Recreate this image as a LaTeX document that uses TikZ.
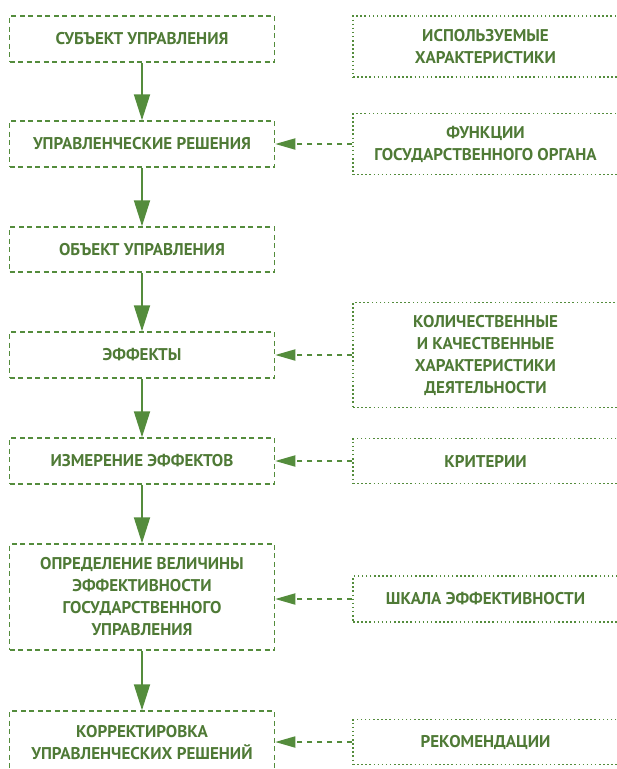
\documentclass[tikz,border=0pt]{standalone}
\usepackage{fontspec}
\setmainfont{PT Sans}[BoldFont = PT Sans Bold]
\usetikzlibrary{arrows.meta}
\definecolor{zelen}{HTML}{548C3C}
\definecolor{zelentxt}{HTML}{4F7A36}
\tikzset{
	blok/.style = {draw = zelen, line width = 1.5pt, dash pattern = on 5pt off 3.5pt, minimum width = 265pt, align = center, text = zelentxt, font = \fontsize{17}{22}\selectfont\bfseries, inner sep = 0pt},
	bron/.style = {blok, dash pattern = on 1.5pt off 2.6pt},
	pijl/.style = {zelen, line width = 2pt, -{Triangle[length = 26pt, width = 16pt]}},
	stippel/.style = {zelen, line width = 1.8pt, dash pattern = on 5pt off 5pt, -{Triangle[length = 20pt, width = 11pt]}}
}
\begin{document}
\begin{tikzpicture}[x = 1pt, y = -1pt]
	%	canvas
	\useasboundingbox (0, 0) rectangle (617, 769);
	
	\def\xl{142}
	\def\xr{485.5}
	
	%	left column
	\node[blok, minimum height = 46pt] (subj) at (\xl, 39) {СУБЪЕКТ УПРАВЛЕНИЯ};
	\node[blok, minimum height = 46pt] (resh) at (\xl, 144) {УПРАВЛЕНЧЕСКИЕ РЕШЕНИЯ};
	\node[blok, minimum height = 45pt] (obj) at (\xl, 249.5) {ОБЪЕКТ УПРАВЛЕНИЯ};
	\node[blok, minimum height = 46pt] (eff) at (\xl, 355) {ЭФФЕКТЫ};
	\node[blok, minimum height = 46pt] (izm) at (\xl, 461) {ИЗМЕРЕНИЕ ЭФФЕКТОВ};
	\node[blok, minimum height = 106pt] (opr) at (\xl, 597) {ОПРЕДЕЛЕНИЕ ВЕЛИЧИНЫ\\ЭФФЕКТИВНОСТИ\\ГОСУДАРСТВЕННОГО\\УПРАВЛЕНИЯ};
	\node[blok, minimum height = 64pt] (korr) at (\xl, 743) {КОРРЕКТИРОВКА\\УПРАВЛЕНЧЕСКИХ РЕШЕНИЙ};
	
	%	right column
	\node[bron, minimum height = 61pt] (xar) at (\xr, 46.5) {ИСПОЛЬЗУЕМЫЕ\\ХАРАКТЕРИСТИКИ};
	\node[bron, minimum height = 61pt] (funk) at (\xr, 144) {ФУНКЦИИ\\ГОСУДАРСТВЕННОГО ОРГАНА};
	\node[bron, minimum height = 105pt] (kol) at (\xr, 355) {КОЛИЧЕСТВЕННЫЕ\\И КАЧЕСТВЕННЫЕ\\ХАРАКТЕРИСТИКИ\\ДЕЯТЕЛЬНОСТИ};
	\node[bron, minimum height = 45pt] (krit) at (\xr, 461) {КРИТЕРИИ};
	\node[bron, minimum height = 46pt] (shk) at (\xr, 599) {ШКАЛА ЭФФЕКТИВНОСТИ};
	\node[bron, minimum height = 45pt] (rek) at (\xr, 742) {РЕКОМЕНДАЦИИ};
	
	%	main flow
	\draw[pijl] (subj) -- (resh);
	\draw[pijl] (resh) -- (obj);
	\draw[pijl] (obj) -- (eff);
	\draw[pijl] (eff) -- (izm);
	\draw[pijl] (izm) -- (opr);
	\draw[pijl] (opr) -- (korr);
	
	%	inputs
	\draw[stippel] (funk) -- (resh);
	\draw[stippel] (kol) -- (eff);
	\draw[stippel] (krit) -- (izm);
	\draw[stippel] (shk.west) -- (shk.west -| opr.east);
	\draw[stippel] (rek.west) -- (rek.west -| korr.east);
\end{tikzpicture}
\end{document}
